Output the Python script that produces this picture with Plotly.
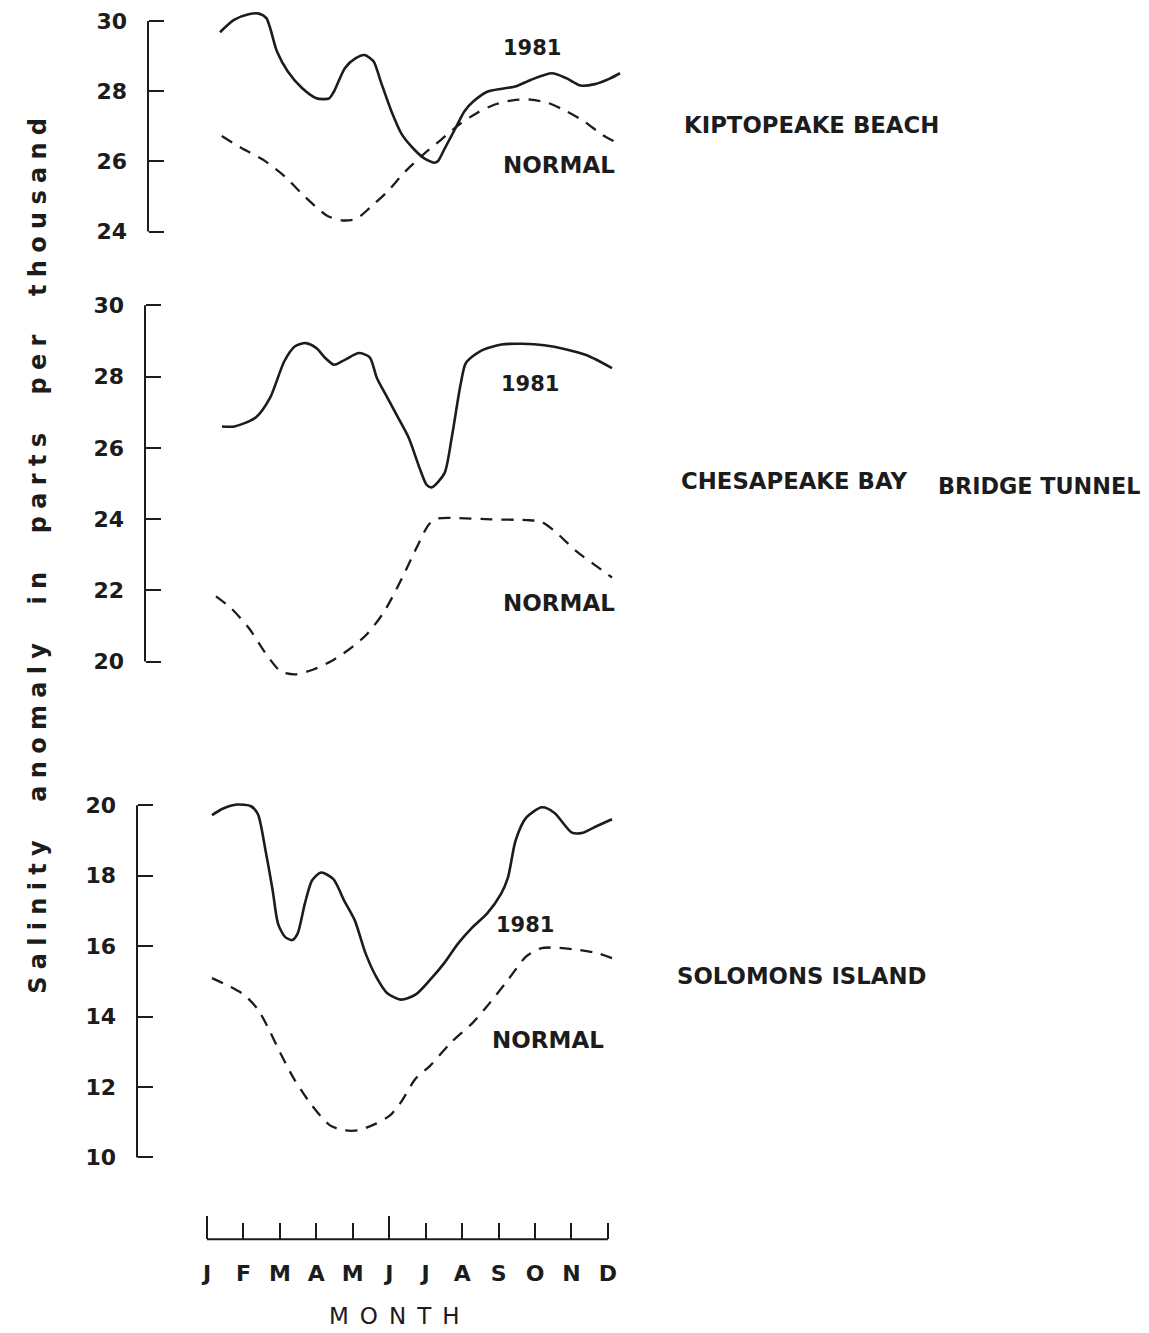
import plotly.graph_objects as go

# ---------------- data (x in months, 0 = start of January) ----------------
X0PX, MPX = 207.0, 36.45   # pixel of Jan tick, pixels per month in the reference

def px2m(xs):
    return [round((x - X0PX) / MPX, 3) for x in xs]

# Kiptopeake Beach
kip_1981_xpx = [220, 234, 248.6, 259, 266.4, 277, 287.8, 302, 316.4, 329, 334, 345, 355.7, 364.6, 373.5,
                380.7, 391.4, 402, 412.8, 423.5, 434.2, 437.8, 445, 455.6, 464.5, 473.5, 487.8, 502,
                516.3, 530.6, 552, 566.3, 580.6, 594.9, 609.2, 620]
kip_1981_val = [29.68, 30.03, 30.19, 30.21, 30.08, 29.13, 28.56, 28.09, 27.80, 27.79, 27.99, 28.66, 28.94,
                29.03, 28.85, 28.28, 27.43, 26.76, 26.38, 26.10, 25.96, 26.00, 26.38, 26.95, 27.43, 27.71,
                27.99, 28.07, 28.14, 28.32, 28.51, 28.37, 28.16, 28.20, 28.35, 28.51]
kip_norm_xpx = [221.8, 241.4, 262.8, 284.3, 305.7, 327.1, 341.4, 355.7, 370, 387.8, 405.6, 423.5, 441.3,
                459.2, 477, 494.9, 512.7, 530.6, 548.5, 566.3, 584.1, 602, 620]
kip_norm_val = [26.72, 26.38, 26.05, 25.58, 24.97, 24.45, 24.32, 24.35, 24.68, 25.15, 25.72, 26.20, 26.62,
                27.05, 27.38, 27.62, 27.74, 27.76, 27.66, 27.43, 27.14, 26.76, 26.48]

# Chesapeake Bay Bridge Tunnel
cbt_1981_xpx = [222, 234.5, 255.8, 270, 284.3, 295, 305.7, 316.3, 325.3, 334.1, 344.8, 359, 369.7, 376.9,
                387.5, 398.2, 408.9, 419.6, 426.7, 432, 444.5, 451.6, 460.5, 465.9, 480.1, 501.5, 522.9,
                544.2, 565.5, 586.9, 612]
cbt_1981_val = [26.60, 26.60, 26.85, 27.40, 28.43, 28.85, 28.94, 28.80, 28.52, 28.33, 28.47, 28.66, 28.54,
                27.96, 27.40, 26.84, 26.27, 25.43, 24.96, 24.89, 25.29, 26.27, 27.77, 28.38, 28.71, 28.90,
                28.92, 28.88, 28.77, 28.60, 28.24]
cbt_norm_xpx = [216, 231, 248.8, 266.6, 280.8, 295, 312.8, 330.6, 348.6, 366.4, 384.2, 402, 416.3, 428.7,
                437.6, 455.4, 491, 526.6, 540.9, 555.1, 576.5, 594.3, 612]
cbt_norm_val = [21.83, 21.50, 20.94, 20.19, 19.72, 19.64, 19.77, 20.00, 20.33, 20.75, 21.40, 22.34, 23.18,
                23.84, 24.01, 24.03, 23.99, 23.97, 23.93, 23.65, 23.09, 22.72, 22.36]

# Solomons Island
sol_1981_xpx = [212, 222.7, 237, 251, 258, 265.6, 272.7, 278, 285, 292.3, 297.7, 304.8, 312, 321, 333.4,
                344, 354.8, 365.5, 376, 387, 401, 415.5, 430, 444, 458, 472.6, 487, 501, 508, 515.5, 526,
                542, 554.5, 572, 583, 597, 612]
sol_1981_val = [19.72, 19.90, 20.02, 19.97, 19.74, 18.70, 17.58, 16.64, 16.26, 16.17, 16.36, 17.20, 17.86,
                18.09, 17.90, 17.30, 16.73, 15.80, 15.14, 14.67, 14.48, 14.62, 15.04, 15.51, 16.07, 16.54,
                16.92, 17.48, 17.95, 18.99, 19.64, 19.94, 19.78, 19.22, 19.22, 19.41, 19.60]
sol_norm_xpx = [212, 230, 244, 258, 269, 280, 294, 312, 330, 344, 358.5, 376, 390, 401, 415.5, 430, 451,
                472.6, 487, 508, 526, 540, 554.5, 579, 597, 612]
sol_norm_val = [15.09, 14.85, 14.62, 14.20, 13.63, 12.98, 12.23, 11.47, 10.91, 10.77, 10.77, 10.96, 11.19,
                11.57, 12.23, 12.60, 13.26, 13.82, 14.29, 15.04, 15.70, 15.93, 15.96, 15.89, 15.80, 15.66]

months = ["J", "F", "M", "A", "M", "J", "J", "A", "S", "O", "N", "D"]
month_ticks = list(range(12))
long_ticks = [0, 5]
kip_ticks = [24, 26, 28, 30]
cbt_ticks = [20, 22, 24, 26, 28, 30]
sol_ticks = [10, 12, 14, 16, 18, 20]

# ---------------- figure ----------------
OFF = 8                      # default body margin of the html page
W, H = 1149 - OFF, 1333 - OFF
INK = "#1c1c1c"
FONT = "DejaVu Sans"

def px(x):
    return (x - OFF) / W

def py(y):
    return 1 - (y - OFF) / H

fig = go.Figure()

panels = [
    ("y", kip_1981_xpx, kip_1981_val, kip_norm_xpx, kip_norm_val),
    ("y2", cbt_1981_xpx, cbt_1981_val, cbt_norm_xpx, cbt_norm_val),
    ("y3", sol_1981_xpx, sol_1981_val, sol_norm_xpx, sol_norm_val),
]
for ya, sx, sv, nx, nv in panels:
    fig.add_trace(go.Scatter(x=px2m(sx), y=sv, mode="lines", xaxis="x", yaxis=ya,
                             line=dict(color=INK, width=2.6, shape="spline", smoothing=0.7),
                             showlegend=False, hoverinfo="skip"))
    fig.add_trace(go.Scatter(x=px2m(nx), y=nv, mode="lines", xaxis="x", yaxis=ya,
                             line=dict(color=INK, width=2.3, dash="12px,9px", shape="spline", smoothing=0.7),
                             showlegend=False, hoverinfo="skip"))

# empty traces to host the month axis
fig.add_trace(go.Scatter(x=[], y=[], xaxis="x2", yaxis="y3", showlegend=False))
fig.add_trace(go.Scatter(x=[], y=[], xaxis="x3", yaxis="y3", showlegend=False))

tickfont = dict(family=FONT, size=22, color=INK, weight="bold")

def yax(domain_px, rng, ticks, pos_px):
    top, bot = domain_px
    d0 = max(0.0, min(1.0, py(bot)))
    d1 = max(0.0, min(1.0, py(top)))
    return dict(domain=[d0, d1], range=rng, tickvals=ticks, ticks="inside",
                ticklen=15, tickwidth=2, tickcolor=INK, showline=False, showgrid=False,
                zeroline=False, anchor="free", position=px(pos_px), tickfont=tickfont,
                ticklabelstandoff=21, ticklabeloverflow="allow")

# value -> reference pixel: top 30@18, 24@229 ; mid 30@303, 20@660 ; bottom 20@804, 10@1157
def dom(v_hi, y_hi, v_lo, y_lo, r_lo, r_hi):
    k = (y_lo - y_hi) / (v_hi - v_lo)
    return (y_hi - (r_hi - v_hi) * k, y_lo + (v_lo - r_lo) * k)

PAD = 0.5
AXIS_Y = 1239
fig.update_layout(
    width=W, height=H, margin=dict(l=0, r=0, t=0, b=0),
    paper_bgcolor="white", plot_bgcolor="rgba(0,0,0,0)",
    xaxis=dict(domain=[px(X0PX), px(X0PX + MPX * 12)], range=[0, 12], visible=False, anchor="y3"),
    xaxis2=dict(domain=[px(X0PX - MPX * PAD), px(X0PX + MPX * (11 + PAD))], range=[-PAD, 11 + PAD],
                anchor="free", position=py(AXIS_Y), tickvals=month_ticks, ticktext=months,
                ticks="inside", ticklen=16, tickwidth=2, tickcolor=INK, showline=False,
                showgrid=False, zeroline=False, ticklabeloverflow="allow",
                tickfont=dict(family=FONT, size=22, color=INK, weight="bold"), ticklabelstandoff=19),
    xaxis3=dict(overlaying="x2", range=[-PAD, 11 + PAD], anchor="free", position=py(AXIS_Y),
                tickvals=long_ticks, ticks="inside", ticklen=23, tickwidth=2, tickcolor=INK,
                showticklabels=False, showline=False, showgrid=False, zeroline=False),
    yaxis=yax(dom(30, 18, 24, 229, 23.5, 30.27), [23.5, 30.27], kip_ticks, 148),
    yaxis2=yax(dom(30, 303, 20, 660, 19.3, 30.3), [19.3, 30.3], cbt_ticks, 145),
    yaxis3=yax(dom(20, 804, 10, 1157, 9.5, 20.5), [9.5, 20.5], sol_ticks, 137),
)

# month axis baseline, from first to last tick
fig.add_shape(type="line", xref="x2", yref="paper", x0=month_ticks[0], x1=month_ticks[-1],
              y0=py(AXIS_Y), y1=py(AXIS_Y), line=dict(color=INK, width=2))

# y axis spines (only between first and last tick)
for ya, ticks, pos in [("y", kip_ticks, 148), ("y2", cbt_ticks, 145), ("y3", sol_ticks, 137)]:
    fig.add_shape(type="line", xref="paper", yref=ya, x0=px(pos), x1=px(pos),
                  y0=min(ticks), y1=max(ticks), line=dict(color=INK, width=2))

def label(text, x_px, y_px, size=21, anchor="left", angle=0):
    fig.add_annotation(text=text, xref="paper", yref="paper", x=px(x_px), y=py(y_px),
                       xanchor=anchor, yanchor="middle", showarrow=False, textangle=angle,
                       font=dict(family=FONT, size=size, color=INK))

label("<b>1981</b>", 501, 45)
label("<b>NORMAL</b>", 501, 162, size=23)
label("<b>KIPTOPEAKE BEACH</b>", 682, 122, size=22.8)
label("<b>1981</b>", 499, 382)
label("<b>NORMAL</b>", 501, 601, size=23)
label("<b>CHESAPEAKE BAY</b>", 679, 479, size=22.8)
label("<b>BRIDGE TUNNEL</b>", 936, 484, size=22.3)
label("<b>1981</b>", 494, 924)
label("<b>NORMAL</b>", 490, 1039, size=23)
label("<b>SOLOMONS ISLAND</b>", 675, 975, size=22.8)

label('<span style="letter-spacing:11px">MONTH</span>', 400, 1316, size=23, anchor="center")
label('<b><span style="letter-spacing:7.3px">Salinity  anomaly  in  parts  per  thousand</span></b>',
      38, 551, size=24, anchor="center", angle=-90)

fig.write_html("out.html")
